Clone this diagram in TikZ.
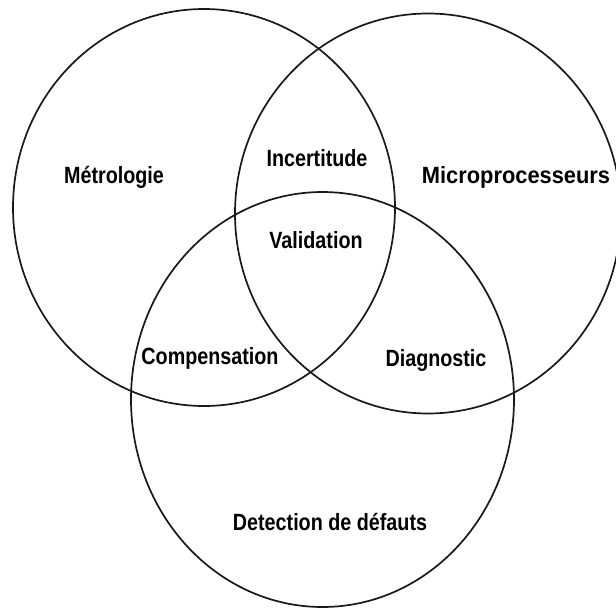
\documentclass[tikz,border=0pt]{standalone}
\usepackage{fontspec}
\newfontfamily\lab{Liberation Sans}[FakeStretch=0.84]
\newfontfamily\labw{Liberation Sans}[FakeStretch=0.93]
\begin{document}
\begin{tikzpicture}[x=1pt,y=-1pt,
  ring/.style={draw=black!90,line width=1.7pt},
  lbl/.style={font=\lab\bfseries\fontsize{23.5}{27}\selectfont,inner sep=0pt,anchor=center},
  lblw/.style={lbl,font=\labw\bfseries\fontsize{23.5}{27}\selectfont}]
\useasboundingbox (0,0) rectangle (616,608);
\fill[white] (0,0) rectangle (616,608);
\draw[ring] (204,207.5) ellipse [x radius=191, y radius=198.5];
\draw[ring] (428,213.5) ellipse [x radius=193, y radius=200];
\draw[ring] (322.5,399.5) ellipse [x radius=191.5, y radius=207.5];
\node[lbl] (metro) at (114,177) {Métrologie};
\node[lbl] (incert) at (317,158) {Incertitude};
\node[lblw] (micro) at (516,177) {Microprocesseurs};
\node[lbl] (valid) at (316,240) {Validation};
\node[lbl] (comp) at (210,358) {Compensation};
\node[lbl] (diag) at (436,360) {Diagnostic};
\node[lbl] (detect) at (330,522) {Detection de défauts};
\end{tikzpicture}
\end{document}
